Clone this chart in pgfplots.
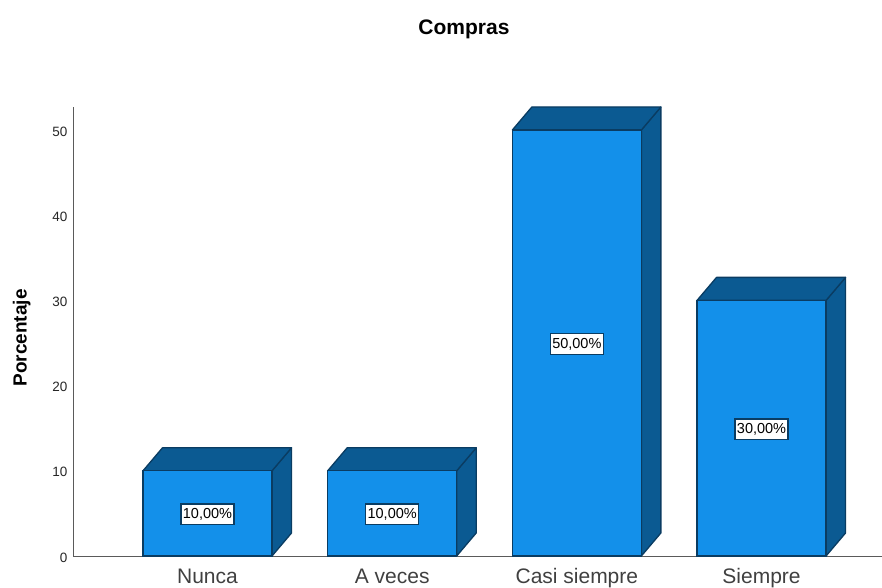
\documentclass[border=0pt]{standalone}
\usepackage{fontspec}
\setmainfont{Liberation Sans}
\usepackage{pgfplots}
\pgfplotsset{compat=1.18}
\definecolor{barfront}{HTML}{1390EA}
\definecolor{bardark}{HTML}{0B5A92}
\definecolor{baredge}{HTML}{0A3C62}
\definecolor{axisline}{HTML}{5A5A5A}
\begin{document}
\begin{tikzpicture}
\path[use as bounding box] (0,0) rectangle (882pt,588pt);
\begin{axis}[
    at={(73pt,32pt)},
    anchor=south west,
    scale only axis,
    width=809pt,
    height=449pt,
    xmin=-0.7283, xmax=3.6523,
    ymin=0, ymax=52.7,
    axis lines=left,
    axis line style={axisline, line width=1pt, -},
    clip=false,
    xtick={0,1,2,3},
    xticklabels={Nunca, A veces, Casi siempre, Siempre},
    ytick={0,10,20,30,40,50},
    major tick length=0pt,
    tick style={draw=none},
    xticklabel style={font=\fontsize{21}{21}\selectfont, text=black!75, anchor=base, yshift=-27pt},
    yticklabel style={font=\fontsize{13.5}{14}\selectfont, text=black!85, xshift=-2pt, yshift=-1.5pt},
    /pgf/number format/assume math mode=true,
    title={Compras},
    title style={at={(axis description cs:0.4833,1.147)}, anchor=base, font=\bfseries\fontsize{21}{21}\selectfont},
    ylabel={Porcentaje},
    every axis y label/.style={at={(axis description cs:-0.0635,0.4855)}, rotate=90, anchor=center, font=\bfseries\fontsize{19}{19}\selectfont},
]
% side and top faces, depth 0.1056 in x and 2.7 in y
\pgfplotsset{face/.style={fill=bardark, draw=baredge, line width=1.3pt, line join=round}}
\addplot[face] coordinates {(0.3493,0) (0.4549,2.7) (0.4549,12.7) (0.3493,10)} -- cycle;
\addplot[face] coordinates {(-0.3493,10) (-0.2437,12.7) (0.4549,12.7) (0.3493,10)} -- cycle;
\addplot[face] coordinates {(1.3493,0) (1.4549,2.7) (1.4549,12.7) (1.3493,10)} -- cycle;
\addplot[face] coordinates {(0.6507,10) (0.7563,12.7) (1.4549,12.7) (1.3493,10)} -- cycle;
\addplot[face] coordinates {(2.3493,0) (2.4549,2.7) (2.4549,52.7) (2.3493,50)} -- cycle;
\addplot[face] coordinates {(1.6507,50) (1.7563,52.7) (2.4549,52.7) (2.3493,50)} -- cycle;
\addplot[face] coordinates {(3.3493,0) (3.4549,2.7) (3.4549,32.7) (3.3493,30)} -- cycle;
\addplot[face] coordinates {(2.6507,30) (2.7563,32.7) (3.4549,32.7) (3.3493,30)} -- cycle;
% front of the bars
\addplot[ybar, bar width=129pt, fill=barfront, draw=baredge, line width=1.3pt]
    coordinates {(0,10) (1,10) (2,50) (3,30)};
% value boxes
\addplot[only marks, mark=none, point meta=explicit symbolic,
    nodes near coords,
    nodes near coords style={anchor=center, yshift=-1pt, fill=white, draw=baredge, line width=1.3pt,
        font=\fontsize{14.5}{15}\selectfont, text=black, inner xsep=2pt, inner ysep=0pt,
        minimum height=20.5pt},
] coordinates {
    (0,5) [10,00\%]
    (1,5) [10,00\%]
    (2,25) [50,00\%]
    (3,15) [30,00\%]
};
\end{axis}
\end{tikzpicture}
\end{document}
